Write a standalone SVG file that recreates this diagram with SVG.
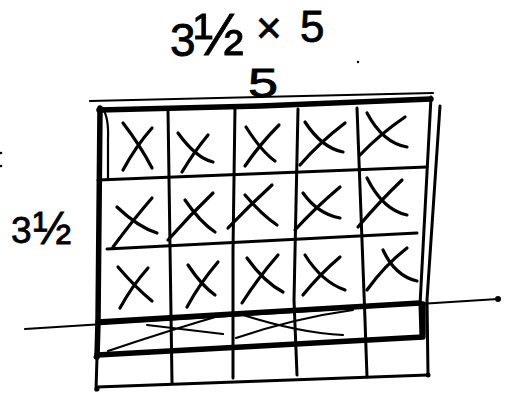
<svg xmlns="http://www.w3.org/2000/svg" width="509" height="394" viewBox="0 0 509 394">
<style>
.ln{fill:none;stroke:#000;stroke-width:3;stroke-linecap:round;stroke-linejoin:round}
.th{fill:none;stroke:#000;stroke-width:5.5;stroke-linecap:round;stroke-linejoin:round}
.tn{fill:none;stroke:#000;stroke-width:2.2;stroke-linecap:round}
.x{fill:none;stroke:#000;stroke-width:3.2;stroke-linecap:round}
.lbl{font-family:"Liberation Sans","DejaVu Sans",sans-serif;fill:#000;stroke:#000;stroke-width:0.8}
.dot{fill:#000}
</style>
<rect width="509" height="394" fill="#fff"/>
<g id="labels">
<text class="lbl" x="170" y="56" font-size="46">3</text>
<text class="lbl" x="194" y="55" font-size="60">½</text>
<text class="lbl" x="256" y="43" font-size="44">×</text>
<text class="lbl" x="300" y="42" font-size="44">5</text>
<text class="lbl" x="248" y="97" font-size="40" transform="translate(248 97) scale(1.35 1) translate(-248 -97)">5</text>
<text class="lbl" x="11" y="243" font-size="37">3</text>
<text class="lbl" x="33" y="244" font-size="46">½</text>
</g>
<g id="grid">
<path class="tn" d="M90 101 L260 97 L433 93"/>
<path class="th" d="M99 110 L260 106 L431 99"/>
<path class="th" d="M100 108 L98 322 L97 357"/>
<path class="ln" d="M97 357 L96 390"/>
<path class="tn" d="M102 108 Q109 116 108 140 L108 180"/>
<path class="ln" d="M168 110 L172 383"/>
<path class="ln" d="M235 107 L233 250 L233 378"/>
<path class="ln" d="M298 109 L294 300 L297 375"/>
<path class="ln" d="M357 108 L365 320 L367 377"/>
<path class="ln" d="M431 97 L420 305 L421 338"/>
<path class="ln" d="M440 106 L427 300 L428 375"/>
<path class="th" d="M423 304 L423 334" stroke-width="7"/>
<path class="ln" d="M98 180 L427 167"/>
<path class="ln" d="M107 249 L417 233"/>
<path class="tn" d="M25 329 L498 299"/>
<path class="th" d="M98 322 L420 303"/>
<path class="th" d="M97 355 L423 337"/>
<path class="ln" d="M97 387 L428 375"/>
<circle class="dot" cx="498" cy="299" r="3"/>
<circle class="dot" cx="96" cy="357" r="2.5"/>
<circle class="dot" cx="97" cy="389" r="2.5"/>
<circle class="dot" cx="428" cy="375" r="2.5"/>
<circle class="dot" cx="358" cy="62" r="1.2"/>
<circle class="dot" cx="1" cy="153" r="1.3"/>
<circle class="dot" cx="1" cy="166" r="1.3"/>
</g>
<g id="marks">
<path class="x" d="M152 128 Q136 146 123 170 M123 123 Q140 145 152 168"/>
<path class="x" d="M208 135 Q194 152 182 172 M178 133 Q196 158 213 162"/>
<path class="x" d="M279 125 Q260 144 245 166 M246 127 Q262 152 275 161"/>
<path class="x" d="M345 123 Q320 142 300 165 M305 122 Q322 148 343 152"/>
<path class="x" d="M405 117 Q380 134 360 155 M367 113 Q383 143 407 147"/>
<path class="x" d="M152 198 Q133 220 113 247 M117 207 Q138 227 157 233"/>
<path class="x" d="M213 193 Q190 215 168 240 M185 200 Q200 222 215 232"/>
<path class="x" d="M272 185 Q250 205 228 228 M245 195 Q262 215 277 225"/>
<path class="x" d="M340 187 Q315 208 295 230 M303 193 Q318 214 340 218"/>
<path class="x" d="M402 180 Q378 203 358 227 M367 178 Q383 210 407 215"/>
<path class="x" d="M148 268 Q132 286 120 308 M118 267 Q136 288 152 301"/>
<path class="x" d="M218 262 Q200 283 187 307 M188 265 Q202 286 215 295"/>
<path class="x" d="M278 255 Q258 278 242 303 M247 258 Q264 282 283 292"/>
<path class="x" d="M340 257 Q320 274 303 295 M305 255 Q322 282 345 290"/>
<path class="x" d="M407 248 Q384 266 367 290 M383 250 Q395 276 417 281"/>
<path class="tn" d="M108 351 Q170 330 229 313 M147 325 Q190 330 223 334" stroke-width="2.6"/>
<path class="tn" d="M236 338 Q295 318 353 310 M243 315 Q300 333 343 335" stroke-width="2.6"/>
</g>
</svg>
